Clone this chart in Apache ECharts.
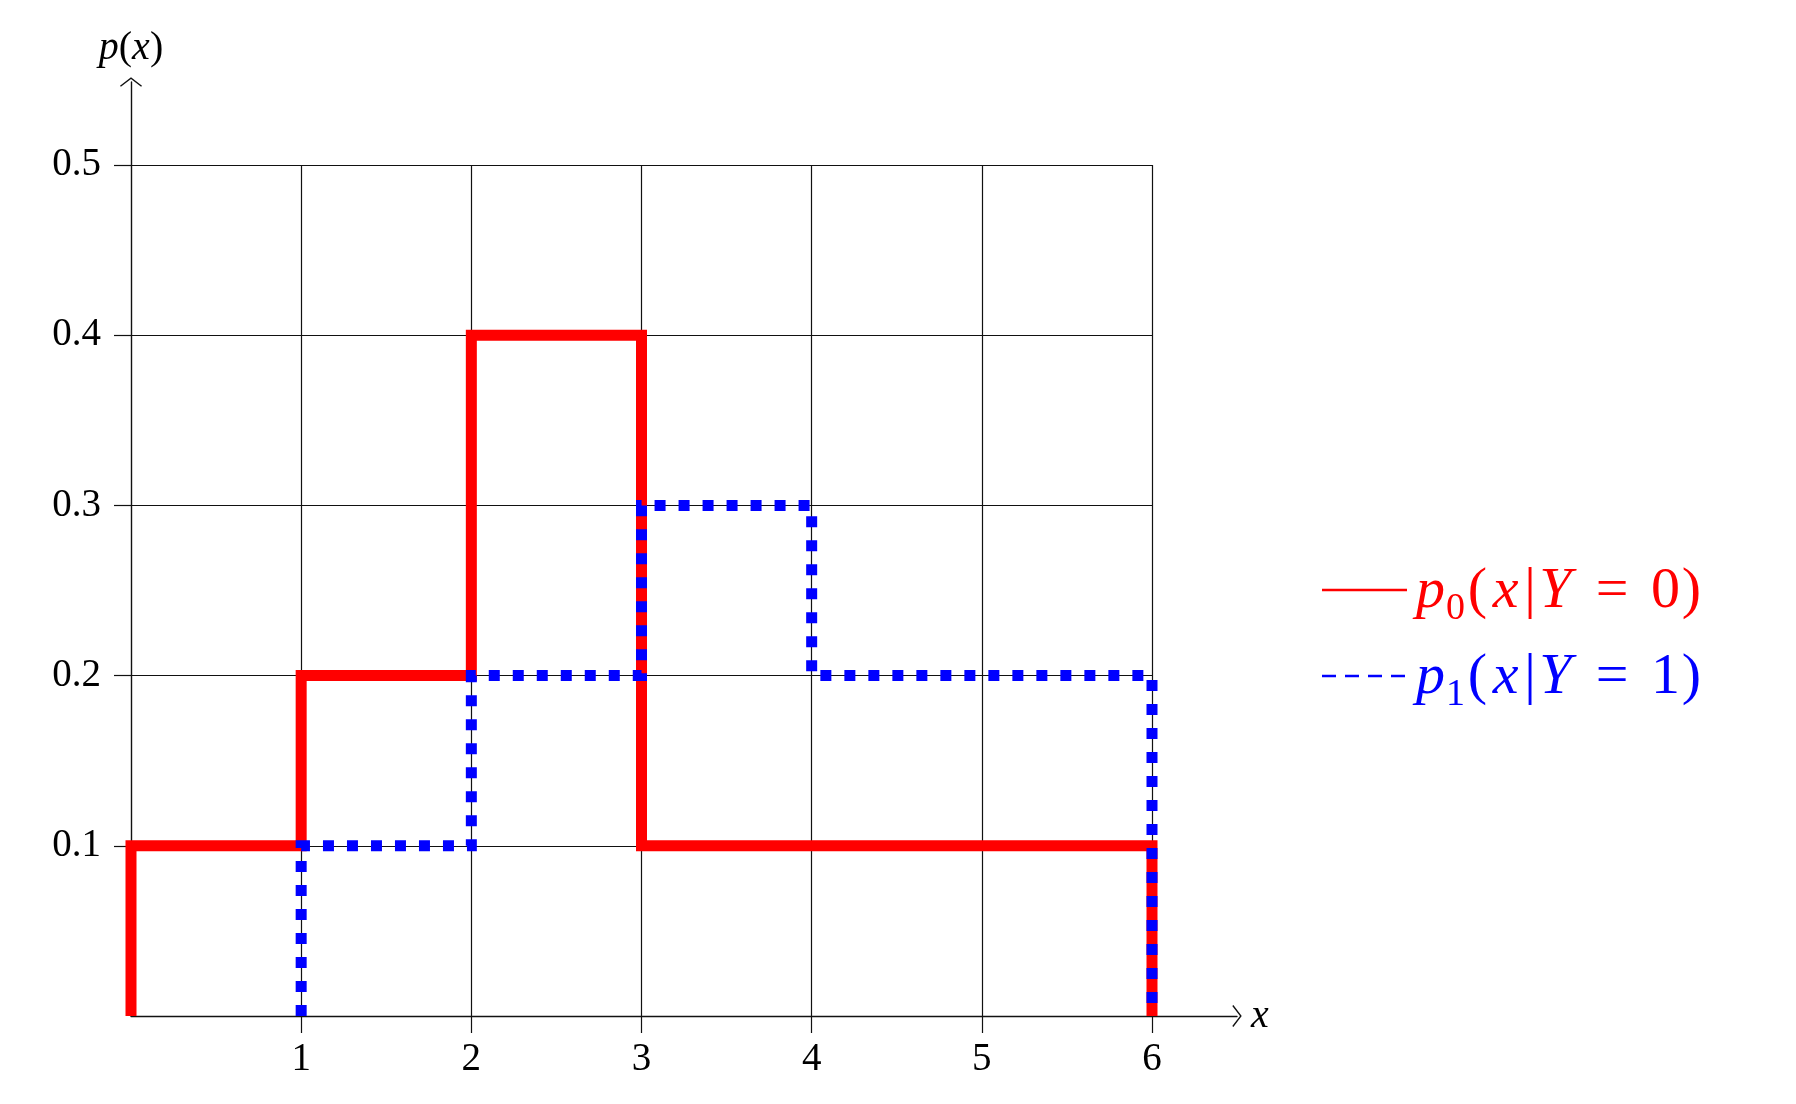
<!DOCTYPE html>
<html>
<head>
<meta charset="utf-8">
<script src="https://cdn.jsdelivr.net/npm/echarts@6/dist/echarts.min.js"></script>
<style>html,body{margin:0;padding:0;background:#fff}#c{width:1796px;height:1104px}</style>
</head>
<body>
<div id="c"></div>
<script>
// ---- data ----
const binEdges = [0, 1, 2, 3, 4, 5, 6];
const p0Values = [0.1, 0.2, 0.4, 0.1, 0.1, 0.1];   // p0(x|Y=0)
const p1Values = [0.0, 0.1, 0.2, 0.3, 0.2, 0.2];   // p1(x|Y=1)
const xTicks = [1, 2, 3, 4, 5, 6];
const yTicks = [0.1, 0.2, 0.3, 0.4, 0.5];
const seriesNames = ['p0(x|Y = 0)', 'p1(x|Y = 1)'];

// build step outline from bin values (skip leading zero bins)
function outline(edges, vals) {
  let s = 0;
  while (s < vals.length && vals[s] === 0) s++;
  const pts = [[edges[s], 0]];
  for (let i = s; i < vals.length; i++) {
    pts.push([edges[i], vals[i]]);
    pts.push([edges[i + 1], vals[i]]);
  }
  pts.push([edges[edges.length - 1], 0]);
  return pts;
}

const FONT = 'Liberation Serif';
const FQ = '"Liberation Serif", "DejaVu Serif", serif';
const chevron = 'path://M10,0 L20,7.6 L19.2,8.6 L10,1.6 L0.8,8.6 L0,7.6 Z';

const chart = echarts.init(document.getElementById('c'));
const mathRich = (color, size) => ({
  i: {fontFamily: FONT, fontStyle: 'italic', fontSize: size, color: color, font: 'italic ' + size + 'px ' + FQ},
  u: {fontFamily: FONT, fontStyle: 'normal', fontSize: size, color: color, font: 'normal ' + size + 'px ' + FQ}
});

function legendRich(color) {
  const fs = 58, lh = 72;
  const base = {fontFamily: FONT, fontSize: fs, color: color, fill: color, lineHeight: lh, align: 'center', verticalAlign: 'middle',
    font: 'normal ' + fs + 'px ' + FQ};
  const it = {fontStyle: 'italic', font: 'italic ' + fs + 'px ' + FQ};
  return {
    p: Object.assign({}, base, it, {width: 29}),
    s: Object.assign({}, base, {fontSize: 38, lineHeight: 40, verticalAlign: 'bottom', width: 21, font: 'normal 38px ' + FQ}),
    lp: Object.assign({}, base, {width: 23}),
    x: Object.assign({}, base, it, {width: 33}),
    bar: Object.assign({}, base, {width: 16}),
    Y: Object.assign({}, base, it, {width: 35}),
    eq: Object.assign({}, base, {width: 78}),
    d: Object.assign({}, base, {width: 29}),
    rp: Object.assign({}, base, {width: 23})
  };
}
function legendText(sub, val) {
  return '{p|p}{s|' + sub + '}{lp|(}{x|x}{bar||}{Y|Y}{eq|=}{d|' + val + '}{rp|)}';
}

chart.setOption({
  animation: false,
  backgroundColor: '#fff',
  grid: [
    {left: 131, right: 644, top: 165, bottom: 88, containLabel: false},
    {left: 131, right: 559, top: 82, bottom: 88, containLabel: false}
  ],
  xAxis: [
    {
      gridIndex: 0, type: 'value', min: 0, max: 6, interval: 1,
      axisLine: {show: false},
      axisTick: {show: true, length: 17, inside: false, customValues: xTicks, lineStyle: {color: '#111', width: 1.2}},
      axisLabel: {customValues: xTicks, margin: 24, fontFamily: FONT, fontSize: 39, color: '#000',
        formatter: v => String(v)},
      splitLine: {show: true, lineStyle: {color: '#111', width: 1.2}}
    },
    {
      gridIndex: 1, type: 'value', min: 0, max: 6.5,
      axisLine: {show: true, onZero: false, symbol: ['none', chevron], symbolSize: [22, 10], symbolOffset: [0, 0],
        lineStyle: {color: '#111', width: 1.4}},
      axisTick: {show: false}, axisLabel: {show: false}, splitLine: {show: false},
      name: '{i|x}', nameLocation: 'end', nameGap: 14,
      nameTextStyle: {fontFamily: FONT, fontSize: 40, rich: mathRich('#000', 40), verticalAlign: 'middle'}
    }
  ],
  yAxis: [
    {
      gridIndex: 0, type: 'value', min: 0, max: 0.5, interval: 0.1,
      axisLine: {show: false},
      axisTick: {show: true, length: 17, inside: false, customValues: yTicks, lineStyle: {color: '#111', width: 1.2}},
      axisLabel: {customValues: yTicks, margin: 30, fontFamily: FONT, fontSize: 39, color: '#000',
        formatter: v => v.toFixed(1)},
      splitLine: {show: true, lineStyle: {color: '#111', width: 1.2}}
    },
    {
      gridIndex: 1, type: 'value', min: 0, max: 0.549,
      axisLine: {show: true, onZero: false, symbol: ['none', chevron], symbolSize: [22, 10],
        lineStyle: {color: '#111', width: 1.4}},
      axisTick: {show: false}, axisLabel: {show: false}, splitLine: {show: false},
      name: '{i|p}{u|(}{i|x}{u|)}', nameLocation: 'end', nameGap: 14,
      nameTextStyle: {fontFamily: FONT, fontSize: 40, rich: mathRich('#000', 40), align: 'center'}
    }
  ],
  series: [
    {
      name: seriesNames[0], type: 'line', xAxisIndex: 0, yAxisIndex: 0,
      data: outline(binEdges, p0Values), showSymbol: false, symbol: 'none', clip: false, z: 3,
      lineStyle: {color: '#ff0000', width: 11, join: 'miter', cap: 'butt'}
    },
    {
      name: seriesNames[1], type: 'line', xAxisIndex: 0, yAxisIndex: 0,
      data: outline(binEdges, p1Values), showSymbol: false, symbol: 'none', clip: false, z: 4,
      lineStyle: {color: '#0000ff', width: 11, type: [11, 13], join: 'miter', cap: 'butt'}
    }
  ],
  graphic: [
    {type: 'line', shape: {x1: 1322, y1: 590, x2: 1407, y2: 590}, style: {stroke: '#ff0000', lineWidth: 2.6}},
    {type: 'line', shape: {x1: 1322, y1: 676, x2: 1407, y2: 676}, style: {stroke: '#0000ff', lineWidth: 2.6, lineDash: [14, 9]}},
    {type: 'text', x: 1416, y: 592, style: {text: legendText('0', '0'), fontFamily: FONT, fontSize: 58, fill: '#ff0000',
      rich: legendRich('#ff0000'), verticalAlign: 'middle', align: 'left'}},
    {type: 'text', x: 1416, y: 678, style: {text: legendText('1', '1'), fontFamily: FONT, fontSize: 58, fill: '#0000ff',
      rich: legendRich('#0000ff'), verticalAlign: 'middle', align: 'left'}}
  ]
});
</script>
</body>
</html>
